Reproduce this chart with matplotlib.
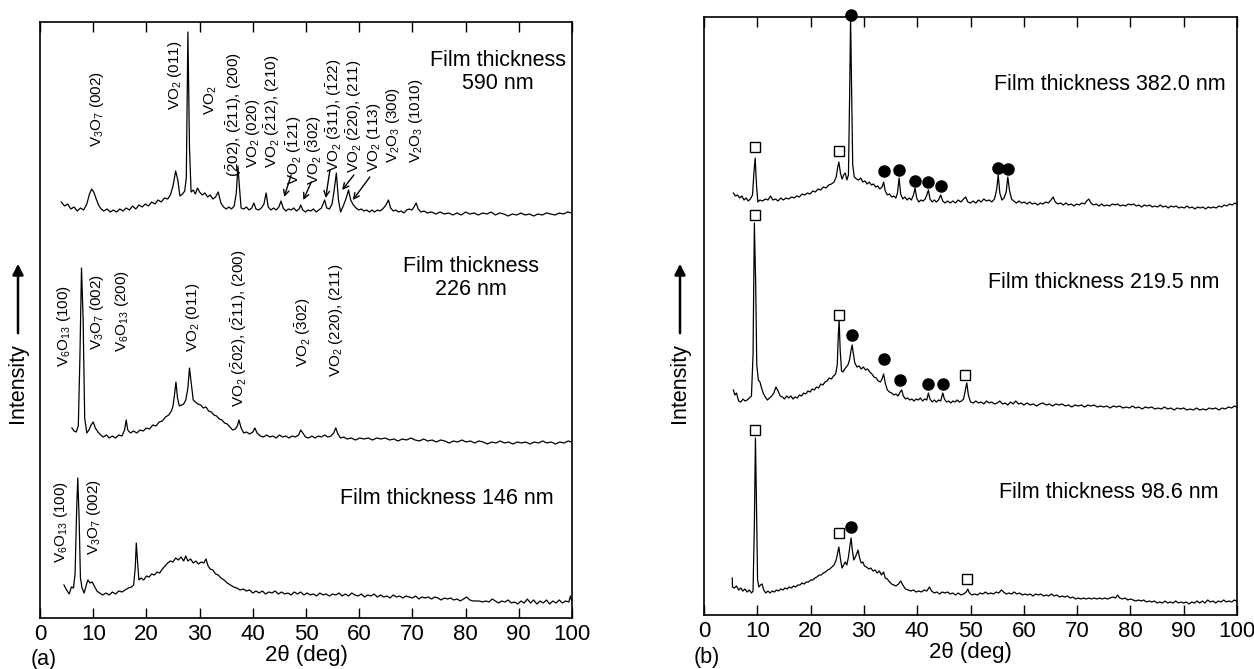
import numpy as np
import matplotlib
matplotlib.use("Agg")
import matplotlib.pyplot as plt

plt.rcParams['font.family'] = ['Liberation Sans', 'DejaVu Sans']
plt.rcParams['mathtext.fontset'] = 'custom'
plt.rcParams['mathtext.rm'] = 'Liberation Sans'
plt.rcParams['mathtext.it'] = 'Liberation Sans:italic'
plt.rcParams['mathtext.bf'] = 'Liberation Sans:bold'

# ---------------- data: panel (a) ----------------
a_590 = [(4.0, 416), (4.6, 412), (5.2, 414), (5.8, 409), (6.4, 411), (7.0, 407), (7.6, 410), (8.2, 408),
         (8.8, 414), (9.3, 424), (9.7, 429), (10.1, 426), (10.5, 420), (11.0, 413), (11.5, 409), (12.0, 407),
         (12.6, 409), (13.2, 406), (13.8, 408), (14.4, 406), (15.0, 409), (15.6, 407), (16.2, 410), (16.8, 408),
         (17.4, 412), (18.0, 409), (18.6, 413), (19.2, 411), (19.8, 414), (20.4, 412), (21.0, 416), (21.6, 414),
         (22.2, 418), (22.8, 416), (23.4, 420), (24.0, 419), (24.5, 423), (25.0, 432), (25.5, 447), (25.9, 438),
         (26.3, 422), (26.8, 424), (27.2, 427), (27.5, 440), (27.8, 586), (28.1, 470), (28.4, 426), (28.8, 428),
         (29.2, 424), (29.6, 430), (30.0, 426), (30.5, 423), (31.0, 425), (31.5, 421), (32.0, 423), (32.5, 419),
         (33.0, 421), (33.5, 426), (34.0, 415), (34.5, 411), (35.0, 409), (35.5, 411), (36.0, 409), (36.5, 412),
         (36.9, 425), (37.2, 452), (37.5, 430), (37.8, 410), (38.3, 409), (38.8, 411), (39.3, 408), (39.8, 410),
         (40.2, 415), (40.6, 409), (41.1, 408), (41.6, 410), (42.1, 414), (42.5, 425), (42.9, 411), (43.4, 408),
         (43.9, 410), (44.4, 408), (44.9, 411), (45.3, 417), (45.7, 410), (46.2, 407), (46.7, 409), (47.2, 408),
         (47.7, 410), (48.2, 407), (48.7, 409), (49.0, 413), (49.4, 408), (49.9, 406), (50.4, 408), (50.9, 407),
         (51.4, 409), (51.9, 406), (52.4, 408), (52.9, 410), (53.5, 418), (53.9, 410), (54.4, 409), (54.9, 414),
         (55.3, 428), (55.7, 445), (56.1, 418), (56.5, 406), (57.0, 412), (57.5, 419), (58.0, 428), (58.4, 418),
         (58.9, 413), (59.4, 410), (59.9, 408), (60.4, 409), (60.9, 407), (61.4, 408), (61.9, 406), (62.4, 408),
         (62.9, 406), (63.4, 408), (63.9, 407), (64.4, 409), (64.9, 412), (65.5, 418), (65.9, 410), (66.4, 407),
         (66.9, 408), (67.4, 406), (67.9, 407), (68.4, 405), (68.9, 408), (69.4, 409), (69.9, 408), (70.3, 411),
         (70.7, 415), (71.1, 409), (71.6, 406), (72.2, 407), (72.8, 405), (73.6, 406), (74.4, 404), (75.2, 406),
         (76.0, 404), (76.8, 405), (77.6, 403), (78.4, 405), (79.2, 403), (80.0, 406), (80.8, 404), (81.6, 405),
         (82.4, 403), (83.2, 405), (84.0, 404), (84.8, 406), (85.6, 403), (86.4, 405), (87.2, 404), (88.0, 402),
         (88.8, 404), (89.6, 403), (90.4, 405), (91.2, 403), (92.0, 404), (92.8, 402), (93.6, 404), (94.4, 403),
         (95.2, 405), (96.0, 404), (96.8, 403), (97.6, 405), (98.4, 404), (99.2, 406), (99.9, 405)]

a_226 = [(6.0, 190), (6.4, 187), (6.8, 186), (7.2, 192), (7.5, 260), (7.8, 350), (8.1, 300), (8.4, 200),
         (8.8, 185), (9.2, 188), (9.6, 193), (10.0, 196), (10.4, 190), (10.9, 186), (11.4, 183), (11.9, 181),
         (12.5, 183), (13.0, 180), (13.6, 182), (14.2, 180), (14.8, 183), (15.4, 182), (15.9, 188), (16.2, 198),
         (16.5, 188), (17.0, 185), (17.6, 187), (18.2, 185), (18.8, 188), (19.4, 187), (20.0, 190), (20.6, 189),
         (21.2, 193), (21.8, 192), (22.4, 196), (23.0, 197), (23.6, 201), (24.2, 203), (24.7, 207), (25.0, 212),
         (25.3, 224), (25.55, 236), (25.85, 220), (26.2, 212), (26.6, 213), (27.0, 214), (27.4, 218), (27.8, 230),
         (28.1, 250), (28.4, 236), (28.8, 218), (29.2, 216), (29.7, 214), (30.2, 213), (30.7, 210), (31.2, 211),
         (31.7, 207), (32.2, 206), (32.7, 203), (33.2, 202), (33.7, 199), (34.2, 198), (34.7, 195), (35.2, 194),
         (35.7, 191), (36.2, 188), (36.7, 189), (37.1, 192), (37.4, 198), (37.8, 190), (38.3, 185), (38.8, 186),
         (39.4, 184), (40.0, 186), (40.4, 190), (40.8, 185), (41.4, 182), (42.0, 181), (42.6, 183), (43.2, 181),
         (43.8, 182), (44.4, 180), (45.0, 183), (45.6, 181), (46.2, 182), (46.8, 180), (47.4, 182), (48.0, 181),
         (48.6, 183), (49.0, 188), (49.4, 185), (49.9, 181), (50.5, 180), (51.1, 182), (51.7, 180), (52.3, 182),
         (52.9, 181), (53.5, 183), (54.1, 181), (54.7, 182), (55.2, 185), (55.6, 190), (56.0, 184), (56.5, 180),
         (57.1, 181), (57.7, 179), (58.5, 180), (59.3, 178), (60.1, 180), (60.9, 179), (61.7, 180), (62.5, 178),
         (63.3, 180), (64.1, 179), (64.9, 180), (65.7, 178), (66.5, 179), (67.3, 177), (68.1, 179), (68.9, 178),
         (69.7, 180), (70.5, 178), (71.3, 177), (72.1, 179), (72.9, 177), (73.7, 178), (74.5, 176), (75.3, 178),
         (76.1, 177), (76.9, 175), (77.7, 177), (78.5, 176), (79.3, 178), (80.1, 176), (80.9, 177), (81.7, 175),
         (82.5, 177), (83.3, 176), (84.1, 174), (84.9, 176), (85.7, 175), (86.5, 177), (87.3, 175), (88.1, 176),
         (88.9, 174), (89.7, 176), (90.5, 175), (91.3, 176), (92.1, 174), (92.9, 176), (93.7, 175), (94.5, 177),
         (95.3, 175), (96.1, 176), (96.9, 174), (97.7, 176), (98.5, 175), (99.3, 177), (99.9, 176)]

a_146 = [(4.5, 33), (5.0, 28), (5.5, 24), (5.9, 31), (6.3, 30), (6.6, 45), (6.9, 110), (7.1, 140),
         (7.35, 100), (7.6, 40), (7.9, 30), (8.3, 25), (8.7, 33), (9.0, 38), (9.4, 35), (9.8, 36),
         (10.2, 32), (10.7, 27), (11.2, 25), (11.8, 23), (12.4, 25), (13.0, 23), (13.6, 26), (14.2, 24),
         (14.8, 27), (15.4, 26), (16.0, 28), (16.6, 30), (17.2, 31), (17.6, 33), (17.9, 50), (18.1, 75),
         (18.35, 55), (18.6, 38), (19.0, 40), (19.5, 38), (20.0, 42), (20.5, 41), (21.0, 44), (21.5, 43),
         (22.0, 46), (22.5, 45), (23.0, 49), (23.5, 52), (24.0, 55), (24.5, 57), (25.0, 56), (25.5, 60),
         (26.0, 58), (26.5, 61), (27.0, 57), (27.4, 62), (27.8, 57), (28.3, 59), (28.8, 55), (29.3, 57),
         (29.8, 54), (30.3, 56), (30.8, 55), (31.2, 59), (31.6, 52), (32.0, 49), (32.5, 48), (33.0, 44),
         (33.5, 43), (34.0, 40), (34.6, 38), (35.2, 35), (35.8, 33), (36.4, 31), (37.0, 30), (37.6, 28),
         (38.2, 29), (38.8, 27), (39.4, 28), (40.0, 25), (40.6, 27), (41.2, 25), (41.8, 27), (42.4, 24),
         (43.0, 26), (43.6, 25), (44.2, 27), (44.8, 24), (45.4, 26), (46.0, 24), (46.6, 25), (47.2, 23),
         (47.8, 26), (48.4, 24), (49.0, 26), (49.6, 23), (50.2, 25), (50.8, 23), (51.4, 24), (52.0, 22),
         (52.6, 25), (53.2, 23), (53.8, 24), (54.4, 22), (55.0, 24), (55.6, 23), (56.2, 25), (56.8, 22),
         (57.4, 24), (58.0, 22), (58.6, 25), (59.2, 23), (59.8, 22), (60.4, 24), (61.0, 21), (61.6, 23),
         (62.2, 22), (62.8, 24), (63.4, 21), (64.0, 23), (64.6, 21), (65.2, 22), (65.8, 20), (66.4, 23),
         (67.0, 21), (67.6, 22), (68.2, 20), (68.8, 22), (69.4, 21), (70.0, 20), (70.6, 22), (71.2, 19),
         (71.8, 21), (72.4, 20), (73.0, 21), (73.6, 19), (74.2, 21), (74.8, 20), (75.4, 18), (76.0, 20),
         (76.6, 19), (77.2, 20), (77.8, 18), (78.4, 19), (79.0, 17), (79.6, 19), (80.2, 21), (80.8, 18),
         (81.4, 17), (82.0, 17), (82.6, 17), (83.2, 16), (83.8, 17), (84.4, 16), (85.0, 19), (85.6, 17),
         (86.2, 15), (86.8, 17), (87.4, 16), (88.0, 18), (88.6, 15), (89.2, 16), (89.8, 14), (90.4, 17),
         (91.0, 15), (91.6, 19), (92.2, 15), (92.8, 18), (93.4, 14), (94.0, 17), (94.6, 15), (95.2, 18),
         (95.8, 14), (96.4, 17), (97.0, 15), (97.6, 18), (98.2, 15), (98.8, 17), (99.4, 16), (99.7, 22),
         (99.9, 18)]

# peak labels, panel (a): (text, 2theta, bottom intensity)
a_labels_590 = [
    (r"V$_3$O$_7$ (002)", 10.7, 471),
    (r"VO$_2$ (011)", 25.3, 508),
    (r"VO$_2$", 32.1, 503),
    (r"($\bar{2}$02), ($\bar{2}$11), (200)", 36.4, 441),
    (r"VO$_2$ (020)", 40.0, 450),
    (r"VO$_2$ ($\bar{2}$12), (210)", 43.6, 450),
    (r"VO$_2$ ($\bar{1}$21)", 47.8, 433),
    (r"VO$_2$ ($\bar{3}$02)", 51.6, 433),
    (r"VO$_2$ ($\bar{3}$11), ($\bar{1}$22)", 55.3, 446),
    (r"VO$_2$ ($\bar{2}$20), (211)", 59.0, 445),
    (r"VO$_2$ (113)", 62.7, 446),
    (r"V$_2$O$_3$ (300)", 66.3, 455),
    (r"V$_2$O$_3$ (1010)", 70.7, 455),
]
# arrows: (start 2theta, start I, tip 2theta, tip I)
a_arrows_590 = [(47.2, 443, 45.9, 421), (51.0, 436, 49.5, 418), (54.5, 448, 53.7, 420),
                (59.0, 443, 56.8, 428), (62.0, 441, 58.8, 418)]
a_labels_226 = [
    (r"V$_6$O$_{13}$ (100)", 4.5, 251),
    (r"V$_3$O$_7$ (002)", 10.8, 268),
    (r"V$_6$O$_{13}$ (200)", 15.5, 266),
    (r"VO$_2$ (011)", 28.7, 266),
    (r"VO$_2$ ($\bar{2}$02), ($\bar{2}$11), (200)", 37.4, 211),
    (r"VO$_2$ ($\bar{3}$02)", 49.4, 251),
    (r"VO$_2$ (220), (211)", 55.6, 241),
]
a_labels_146 = [
    (r"V$_6$O$_{13}$ (100)", 4.0, 55),
    (r"V$_3$O$_7$ (002)", 10.2, 63),
]

# ---------------- data: panel (b) ----------------
b_382 = [(5.5, 422), (5.9, 419), (6.3, 420), (6.7, 417), (7.1, 419), (7.5, 415), (7.9, 417), (8.3, 414),
         (8.7, 416), (9.1, 420), (9.4, 445), (9.6, 457), (9.85, 430), (10.1, 413), (10.5, 415), (11.0, 414),
         (11.5, 416), (12.0, 415), (12.5, 419), (12.9, 415), (13.4, 416), (13.9, 414), (14.4, 417), (14.9, 415),
         (15.4, 417), (15.9, 416), (16.4, 418), (16.9, 417), (17.4, 419), (17.9, 418), (18.4, 421), (18.9, 420),
         (19.4, 422), (19.9, 421), (20.4, 424), (20.9, 423), (21.4, 426), (21.9, 425), (22.4, 428), (22.9, 427),
         (23.4, 430), (23.9, 431), (24.4, 433), (24.8, 438), (25.1, 448), (25.3, 453), (25.6, 442), (25.9, 436),
         (26.2, 440), (26.5, 442), (26.8, 435), (27.1, 440), (27.35, 530), (27.5, 597), (27.7, 520), (27.9, 450),
         (28.2, 438), (28.6, 436), (29.0, 435), (29.4, 437), (29.8, 433), (30.2, 434), (30.6, 431), (31.0, 433),
         (31.4, 430), (31.8, 431), (32.2, 428), (32.6, 429), (33.0, 426), (33.4, 428), (33.7, 433), (34.0, 424),
         (34.4, 420), (34.8, 421), (35.2, 418), (35.6, 419), (36.0, 417), (36.3, 422), (36.6, 437), (36.9, 421),
         (37.3, 416), (37.7, 418), (38.1, 415), (38.5, 417), (38.9, 415), (39.3, 420), (39.6, 427), (39.9, 417),
         (40.3, 413), (40.7, 415), (41.1, 414), (41.5, 416), (41.8, 420), (42.1, 425), (42.4, 416), (42.8, 413),
         (43.2, 415), (43.6, 413), (44.0, 415), (44.4, 420), (44.8, 414), (45.2, 412), (45.7, 414), (46.2, 412),
         (46.7, 414), (47.2, 412), (47.7, 415), (48.2, 413), (48.7, 416), (49.1, 418), (49.5, 413), (50.0, 412),
         (50.5, 414), (51.0, 412), (51.5, 415), (52.0, 413), (52.5, 416), (53.0, 414), (53.5, 415), (54.0, 413),
         (54.5, 416), (54.9, 425), (55.2, 440), (55.5, 422), (55.9, 415), (56.3, 417), (56.7, 423), (57.0, 438),
         (57.3, 425), (57.7, 416), (58.1, 414), (58.6, 412), (59.1, 414), (59.6, 412), (60.1, 413), (60.6, 411),
         (61.1, 413), (61.6, 411), (62.1, 412), (62.6, 410), (63.1, 412), (63.6, 411), (64.1, 413), (64.6, 412),
         (65.1, 415), (65.5, 418), (65.9, 413), (66.4, 411), (66.9, 412), (67.4, 410), (67.9, 412), (68.4, 410),
         (68.9, 411), (69.4, 409), (69.9, 411), (70.4, 410), (70.9, 412), (71.4, 411), (71.8, 414), (72.2, 416),
         (72.6, 412), (73.1, 410), (73.6, 411), (74.1, 409), (74.6, 411), (75.1, 409), (75.6, 410), (76.1, 409),
         (76.6, 411), (77.1, 410), (77.6, 411), (78.1, 409), (78.6, 410), (79.1, 409), (79.6, 411), (80.1, 410),
         (80.6, 411), (81.1, 409), (81.6, 410), (82.1, 408), (82.6, 410), (83.1, 409), (83.6, 410), (84.1, 408),
         (84.6, 409), (85.1, 408), (85.6, 410), (86.1, 408), (86.6, 409), (87.1, 407), (87.6, 409), (88.1, 408),
         (88.6, 409), (89.1, 407), (89.6, 408), (90.1, 407), (90.6, 409), (91.1, 407), (91.6, 408), (92.1, 406),
         (92.6, 408), (93.1, 407), (93.6, 408), (94.1, 406), (94.6, 408), (95.1, 407), (95.6, 408), (96.1, 407),
         (96.6, 409), (97.1, 408), (97.6, 410), (98.1, 409), (98.6, 411), (99.1, 410), (99.6, 412), (99.9, 411)]

b_2195 = [(5.5, 225), (5.8, 220), (6.1, 222), (6.5, 214), (6.9, 213), (7.3, 216), (7.7, 214), (8.1, 215),
          (8.5, 217), (8.9, 219), (9.2, 260), (9.45, 392), (9.7, 330), (9.9, 250), (10.2, 235), (10.5, 233),
          (10.8, 227), (11.1, 222), (11.5, 218), (11.9, 215), (12.3, 217), (12.7, 219), (13.1, 222), (13.5, 228),
          (13.9, 224), (14.3, 219), (14.7, 218), (15.1, 216), (15.5, 219), (15.9, 217), (16.3, 219), (16.7, 216),
          (17.1, 218), (17.5, 217), (17.9, 220), (18.3, 219), (18.7, 222), (19.1, 221), (19.5, 224), (19.9, 223),
          (20.3, 226), (20.7, 225), (21.1, 228), (21.5, 227), (21.9, 231), (22.3, 230), (22.7, 233), (23.1, 234),
          (23.5, 237), (23.9, 236), (24.3, 239), (24.7, 241), (25.0, 250), (25.2, 280), (25.35, 295), (25.55, 265),
          (25.8, 244), (26.1, 243), (26.4, 246), (26.7, 248), (27.0, 250), (27.3, 255), (27.6, 265), (27.8, 270),
          (28.0, 262), (28.3, 252), (28.7, 248), (29.1, 249), (29.5, 246), (29.9, 248), (30.3, 245), (30.7, 246),
          (31.1, 243), (31.5, 241), (31.9, 238), (32.3, 237), (32.7, 234), (33.1, 233), (33.4, 236), (33.7, 241),
          (34.0, 232), (34.4, 225), (34.8, 223), (35.2, 222), (35.6, 220), (36.0, 221), (36.4, 219), (36.8, 223),
          (37.1, 225), (37.4, 219), (37.8, 216), (38.2, 217), (38.6, 215), (39.0, 216), (39.4, 214), (39.8, 216),
          (40.2, 215), (40.6, 217), (41.0, 214), (41.4, 216), (41.8, 215), (42.1, 222), (42.4, 216), (42.8, 213),
          (43.2, 215), (43.6, 213), (44.0, 215), (44.4, 214), (44.8, 222), (45.1, 216), (45.5, 213), (45.9, 214),
          (46.3, 212), (46.7, 214), (47.1, 213), (47.5, 215), (47.9, 213), (48.3, 214), (48.7, 216), (49.0, 224),
          (49.3, 232), (49.6, 220), (50.0, 213), (50.5, 212), (51.0, 214), (51.5, 212), (52.0, 213), (52.5, 211),
          (53.0, 214), (53.5, 212), (54.0, 213), (54.5, 211), (55.0, 212), (55.5, 214), (56.0, 211), (56.5, 212),
          (57.0, 210), (57.5, 213), (58.0, 211), (58.5, 214), (59.0, 211), (59.5, 212), (60.0, 210), (60.6, 212),
          (61.2, 210), (61.8, 211), (62.4, 209), (63.0, 211), (63.6, 212), (64.2, 210), (64.8, 211), (65.4, 209),
          (66.0, 211), (66.6, 210), (67.2, 211), (67.8, 209), (68.4, 210), (69.0, 208), (69.6, 210), (70.2, 209),
          (70.8, 210), (71.4, 208), (72.0, 210), (72.6, 209), (73.2, 210), (73.8, 208), (74.4, 209), (75.0, 208),
          (75.6, 209), (76.2, 207), (76.8, 209), (77.4, 208), (78.0, 209), (78.6, 207), (79.2, 208), (79.8, 207),
          (80.4, 209), (81.0, 207), (81.6, 208), (82.2, 206), (82.8, 208), (83.4, 207), (84.0, 208), (84.6, 206),
          (85.2, 207), (85.8, 206), (86.4, 208), (87.0, 206), (87.6, 207), (88.2, 205), (88.8, 207), (89.4, 206),
          (90.0, 207), (90.6, 205), (91.2, 206), (91.8, 205), (92.4, 207), (93.0, 205), (93.6, 206), (94.2, 205),
          (94.8, 207), (95.4, 206), (96.0, 207), (96.6, 205), (97.2, 207), (97.8, 206), (98.4, 208), (99.0, 207),
          (99.5, 209), (99.9, 208)]

b_986 = [(5.3, 37), (5.35, 28), (5.7, 27), (6.1, 29), (6.5, 25), (6.9, 27), (7.3, 24), (7.7, 26),
         (8.1, 23), (8.5, 25), (8.9, 22), (9.2, 24), (9.45, 90), (9.65, 177), (9.85, 110), (10.05, 35),
         (10.3, 28), (10.6, 30), (10.9, 31), (11.2, 25), (11.6, 22), (12.0, 24), (12.4, 22), (12.8, 24),
         (13.2, 23), (13.6, 25), (14.0, 24), (14.4, 26), (14.8, 25), (15.2, 27), (15.6, 26), (16.0, 28),
         (16.4, 27), (16.8, 29), (17.2, 28), (17.6, 30), (18.0, 30), (18.4, 32), (18.8, 31), (19.2, 33),
         (19.6, 33), (20.0, 35), (20.4, 35), (20.8, 37), (21.2, 38), (21.6, 40), (22.0, 40), (22.4, 42),
         (22.8, 43), (23.2, 45), (23.6, 46), (24.0, 48), (24.4, 50), (24.8, 55), (25.1, 63), (25.3, 68),
         (25.6, 56), (25.9, 47), (26.2, 50), (26.5, 53), (26.8, 50), (27.1, 58), (27.4, 70), (27.6, 77),
         (27.8, 66), (28.1, 55), (28.4, 58), (28.7, 62), (28.9, 65), (29.2, 57), (29.5, 52), (29.8, 53),
         (30.1, 49), (30.5, 48), (30.9, 46), (31.3, 47), (31.7, 44), (32.1, 45), (32.5, 42), (32.9, 44),
         (33.3, 40), (33.7, 43), (34.0, 37), (34.4, 36), (34.8, 33), (35.2, 31), (35.6, 30), (36.0, 29),
         (36.5, 31), (36.9, 34), (37.3, 30), (37.8, 26), (38.3, 25), (38.8, 24), (39.3, 25), (39.8, 23),
         (40.3, 24), (40.8, 23), (41.3, 25), (41.8, 24), (42.3, 28), (42.7, 24), (43.2, 22), (43.7, 23),
         (44.2, 21), (44.7, 23), (45.2, 22), (45.7, 23), (46.2, 21), (46.7, 22), (47.2, 20), (47.7, 22),
         (48.2, 20), (48.7, 21), (49.2, 23), (49.5, 26), (49.8, 22), (50.3, 20), (50.8, 21), (51.3, 20),
         (51.8, 22), (52.3, 21), (52.8, 23), (53.3, 21), (53.8, 22), (54.3, 21), (54.8, 23), (55.3, 22),
         (55.8, 25), (56.2, 23), (56.7, 21), (57.2, 22), (57.7, 21), (58.2, 23), (58.7, 21), (59.2, 22),
         (59.7, 20), (60.2, 21), (60.7, 20), (61.2, 21), (61.7, 19), (62.2, 21), (62.7, 20), (63.2, 21),
         (63.7, 19), (64.2, 20), (64.7, 19), (65.2, 21), (65.7, 19), (66.2, 20), (66.7, 18), (67.2, 19),
         (67.7, 18), (68.2, 19), (68.7, 17), (69.2, 18), (69.7, 16), (70.2, 17), (70.7, 16), (71.2, 17),
         (71.7, 16), (72.2, 17), (72.7, 16), (73.2, 17), (73.7, 16), (74.2, 17), (74.7, 16), (75.2, 17),
         (75.7, 16), (76.2, 17), (76.7, 18), (77.2, 17), (77.6, 20), (78.0, 17), (78.5, 16), (79.0, 17),
         (79.5, 15), (80.0, 16), (80.5, 15), (81.0, 14), (81.5, 15), (82.0, 14), (82.5, 15), (83.0, 13),
         (83.5, 14), (84.0, 13), (84.5, 14), (85.0, 12), (85.5, 13), (86.0, 12), (86.5, 14), (87.0, 12),
         (87.5, 13), (88.0, 12), (88.5, 14), (89.0, 12), (89.5, 13), (90.0, 12), (90.5, 13), (91.0, 11),
         (91.5, 13), (92.0, 12), (92.5, 14), (93.0, 12), (93.5, 14), (94.0, 12), (94.5, 15), (95.0, 13),
         (95.5, 14), (96.0, 12), (96.5, 14), (97.0, 13), (97.5, 15), (98.0, 13), (98.5, 14), (99.0, 13),
         (99.5, 15), (99.9, 14)]

# phase markers, panel (b)
b_squares_x = [9.5, 25.3, 9.5, 25.3, 48.9, 9.6, 25.3, 49.3]
b_squares_y = [468, 464, 400, 300, 240, 185, 82, 36]
b_dots_x = [27.5, 33.7, 36.6, 39.6, 42.0, 44.4, 55.1, 57.1, 27.8, 33.7, 36.8, 42.1, 44.9, 27.6]
b_dots_y = [600, 444, 445, 434, 433, 429, 447, 446, 280, 256, 235, 231, 231, 88]

xticks = list(range(0, 101, 10))

# ---------------- figure ----------------
W, H = 1254, 669
fig = plt.figure(figsize=(W / 100, H / 100), dpi=100)
axA = fig.add_axes([40 / W, 1 - 618 / H, (572 - 40) / W, (618 - 22) / H])
axB = fig.add_axes([704 / W, 1 - 615 / H, (1237 - 704) / W, (615 - 17) / H])

TICKFS = 16
TXTFS = 15.5
LBLFS = 11.0

for ax, top in ((axA, 596), (axB, 598)):
    ax.set_xlim(0, 100)
    ax.set_ylim(0, top)
    ax.set_xticks(xticks)
    ax.set_yticks([])
    ax.tick_params(axis='x', direction='in', top=True, length=7, width=1.0,
                   labelsize=TICKFS, pad=4)
    for s in ax.spines.values():
        s.set_linewidth(1.2)
    ax.set_xlabel("2θ (deg)", fontsize=TICKFS, labelpad=0)

for trace in (a_590, a_226, a_146):
    x, y = np.array(trace).T
    axA.plot(x, y, color='black', lw=0.9)
for trace in (b_382, b_2195, b_986):
    x, y = np.array(trace).T
    axB.plot(x, y, color='black', lw=0.9)

for labels in (a_labels_590, a_labels_226, a_labels_146):
    for txt, x, y in labels:
        axA.text(x, y, txt, rotation=90, ha='center', va='bottom', fontsize=LBLFS)
for x0, y0, x1, y1 in a_arrows_590:
    axA.annotate("", xy=(x1, y1), xytext=(x0, y0),
                 arrowprops=dict(arrowstyle='->', lw=1.0, color='black',
                                 shrinkA=0, shrinkB=0, mutation_scale=10))

axA.text(86, 546, "Film thickness\n590 nm", ha='center', va='center',
         fontsize=TXTFS, linespacing=1.1)
axA.text(81, 340, "Film thickness\n226 nm", ha='center', va='center',
         fontsize=TXTFS, linespacing=1.1)
axA.text(96.6, 120, "Film thickness 146 nm", ha='right', va='center', fontsize=TXTFS)

axB.plot(b_squares_x, b_squares_y, linestyle='none', marker='s', markersize=7,
         markerfacecolor='white', markeredgecolor='black', markeredgewidth=1.0, clip_on=False)
axB.plot(b_dots_x, b_dots_y, linestyle='none', marker='o', markersize=8,
         markerfacecolor='black', markeredgecolor='black', clip_on=False)

axB.text(97.8, 530, "Film thickness 382.0 nm", ha='right', va='center', fontsize=TXTFS)
axB.text(96.7, 332, "Film thickness 219.5 nm", ha='right', va='center', fontsize=TXTFS)
axB.text(96.6, 123, "Film thickness 98.6 nm", ha='right', va='center', fontsize=TXTFS)

# Intensity labels with arrows
for xpx in (18, 680):
    fig.text(xpx / W, 1 - 383 / H, "Intensity", rotation=90, ha='center', va='center',
             fontsize=TXTFS)
    fig.add_artist(matplotlib.patches.FancyArrowPatch(
        (xpx / W, 1 - 336 / H), (xpx / W, 1 - 261 / H), transform=fig.transFigure,
        arrowstyle='-|>', mutation_scale=16, lw=1.8, color='black'))

fig.text(44 / W, 1 - 660 / H, "(a)", ha='center', va='center', fontsize=TXTFS)
fig.text(707 / W, 1 - 657 / H, "(b)", ha='center', va='center', fontsize=TXTFS)

fig.savefig("out.png", dpi=100)
